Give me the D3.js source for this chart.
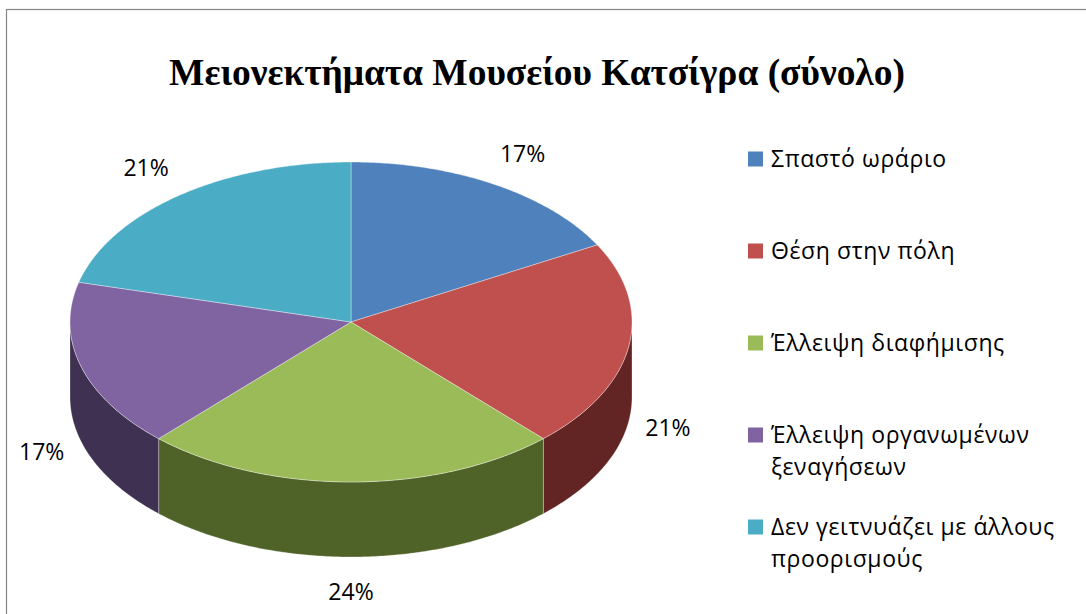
<!DOCTYPE html>
<html><head><meta charset="utf-8">
<script src="https://cdn.jsdelivr.net/npm/d3@7"></script>
<style>body{margin:0;background:#fff;} svg{display:block;}</style>
</head><body>
<svg id="chart" width="1086" height="614"></svg>
<script>
const title = "Μειονεκτήματα Μουσείου Κατσίγρα (σύνολο)";
const categories = ["Σπαστό ωράριο", "Θέση στην πόλη", "Έλλειψη διαφήμισης", "Έλλειψη οργανωμένων ξεναγήσεων", "Δεν γειτνυάζει με άλλους προορισμούς"];
const values = [17, 21, 24, 17, 21];
const topColors = ["#4F81BD", "#C0504D", "#9BBB59", "#8064A2", "#4BACC6"];
const sideColors = ["#254061", "#632523", "#4F6228", "#3F3151", "#205867"];

const svg = d3.select("#chart");
const W = 1086, H = 614;
svg.append("rect").attr("width", W).attr("height", H).attr("fill", "#fff");
svg.append("rect").attr("x", 6.5).attr("y", 9.5).attr("width", W + 20).attr("height", H + 20)
  .attr("fill", "none").attr("stroke", "#868686").attr("stroke-width", 1.2);

// Title
const t = svg.append("text").text(title)
  .attr("font-family", "'Liberation Serif','Times New Roman',serif")
  .attr("font-weight", "bold").attr("font-size", 35)
  .attr("x", 537).attr("y", 85).attr("text-anchor", "middle").attr("fill", "#000");
const tw = t.node().getComputedTextLength();
t.attr("font-size", 35 * 736 / tw);

// Pie geometry
const cx = 351, cy = 322, rx = 281, ry = 160, depth = 75;
const color = d3.scaleOrdinal().domain(categories).range(topColors);
const sideColor = d3.scaleOrdinal().domain(categories).range(sideColors);
const pie = d3.pie().sort(null).value(d => d.v);
const arcs = pie(categories.map((c, i) => ({ c, v: values[i] })));

function pt(a, dy) { return [cx + rx * Math.sin(a), cy - ry * Math.cos(a) + (dy || 0)]; }
function arcPts(a0, a1, dy) {
  const n = Math.max(2, Math.ceil((a1 - a0) / 0.01));
  const out = [];
  for (let i = 0; i <= n; i++) out.push(pt(a0 + (a1 - a0) * i / n, dy));
  return out;
}
const line = d3.line();

// Walls (front half only)
const g = svg.append("g");
arcs.forEach(a => {
  const s = Math.max(a.startAngle, Math.PI / 2), e = Math.min(a.endAngle, 3 * Math.PI / 2);
  if (s < e) {
    const pts = arcPts(s, e, 0).concat(arcPts(s, e, depth).reverse());
    g.append("path").attr("d", line(pts) + "Z")
      .attr("fill", sideColor(a.data.c))
      .attr("stroke", "rgba(255,255,255,0.35)").attr("stroke-width", 0.8);
  }
});
// Tops
arcs.forEach(a => {
  const pts = [[cx, cy]].concat(arcPts(a.startAngle, a.endAngle, 0));
  g.append("path").attr("d", line(pts) + "Z")
    .attr("fill", color(a.data.c))
    .attr("stroke", "rgba(255,255,255,0.45)").attr("stroke-width", 0.8)
    .attr("stroke-linejoin", "round");
});

// Data labels
const total = d3.sum(values);
const labFont = "'Open Sans','Noto Sans',sans-serif";
arcs.forEach(a => {
  const m = (a.startAngle + a.endAngle) / 2;
  const s = Math.sin(m), c = Math.cos(m);
  const x = cx + rx * s * (1.22 - 0.08 * s * s);
  const y = cy - ry * 1.22 * c + (c < 0 ? depth : 0);
  svg.append("text").text(Math.round(a.data.v / total * 100) + "%")
    .attr("x", x).attr("y", y).attr("dy", "0.36em")
    .attr("text-anchor", "middle").attr("font-family", labFont)
    .attr("font-size", 23).attr("fill", "#000");
});

// Legend
const legX = 748, legTextX = 771, legY0 = 167, legStep = 92, lineH = 31.5, maxW = 305;
const legFS = 23, legLS = 0.6;
const leg = svg.append("g");
categories.forEach((c, i) => {
  const by = legY0 + i * legStep;
  leg.append("rect").attr("x", legX).attr("y", by - 15.5).attr("width", 15).attr("height", 15)
    .attr("fill", color(c));
  const txt = leg.append("text").attr("font-family", labFont).attr("font-size", legFS)
    .attr("letter-spacing", legLS).attr("fill", "#000");
  const words = c.split(" ");
  let lines = [], cur = "";
  const probe = leg.append("text").attr("font-family", labFont).attr("font-size", legFS)
    .attr("letter-spacing", legLS);
  words.forEach(w => {
    const test = cur ? cur + " " + w : w;
    probe.text(test);
    if (cur && probe.node().getComputedTextLength() > maxW) { lines.push(cur); cur = w; }
    else cur = test;
  });
  lines.push(cur);
  probe.remove();
  lines.forEach((l, j) => {
    txt.append("tspan").attr("x", legTextX).attr("y", by + j * lineH).text(l);
  });
});
</script>
</body></html>
